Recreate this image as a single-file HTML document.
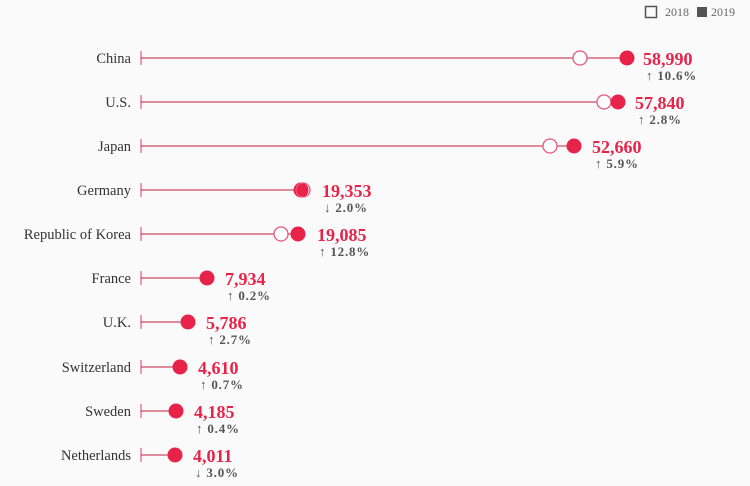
<!DOCTYPE html>
<html><head><meta charset="utf-8"><style>
body{margin:0;background:#fafafa;}
svg{display:block;font-family:"Liberation Serif",serif;}
.l{font-size:14.5px;fill:#333;text-anchor:end}
.v{font-size:18px;font-weight:bold;fill:#e8234a}
.c{font-size:13px;font-weight:bold;fill:#555;letter-spacing:0.8px}
</style></head><body>
<svg width="750" height="486" viewBox="0 0 750 486">
<rect width="750" height="486" fill="#fafafa"/>
<rect x="645.5" y="6.5" width="11" height="11" fill="none" stroke="#555" stroke-width="1.5"/>
<text x="665" y="16" font-size="12" fill="#666">2018</text>
<rect x="697" y="7" width="10" height="10" fill="#555"/>
<text x="711" y="16" font-size="12" fill="#666">2019</text>
<g stroke="#e8577a" stroke-width="1.2">
<line x1="141" y1="51" x2="141" y2="65"/><line x1="141" y1="95" x2="141" y2="109"/><line x1="141" y1="139" x2="141" y2="153"/><line x1="141" y1="183" x2="141" y2="197"/><line x1="141" y1="227" x2="141" y2="241"/><line x1="141" y1="271" x2="141" y2="285"/><line x1="141" y1="315" x2="141" y2="329"/><line x1="141" y1="360" x2="141" y2="374"/><line x1="141" y1="404" x2="141" y2="418"/><line x1="141" y1="448" x2="141" y2="462"/>
</g>
<g stroke="#c02040" stroke-width="1">
<line x1="141" y1="58" x2="627" y2="58"/><line x1="141" y1="102" x2="618" y2="102"/><line x1="141" y1="146" x2="574" y2="146"/><line x1="141" y1="190" x2="301" y2="190"/><line x1="141" y1="234" x2="298" y2="234"/><line x1="141" y1="278" x2="207" y2="278"/><line x1="141" y1="322" x2="188" y2="322"/><line x1="141" y1="367" x2="180" y2="367"/><line x1="141" y1="411" x2="176" y2="411"/><line x1="141" y1="455" x2="175" y2="455"/>
</g>
<g fill="#fff" stroke="#e8577a" stroke-width="1.3">
<circle cx="580" cy="58" r="7"/><circle cx="604" cy="102" r="7"/><circle cx="550" cy="146" r="7"/><circle cx="281" cy="234" r="7"/>
</g>
<g fill="#e8234a">
<circle cx="627" cy="58" r="7.5"/><circle cx="618" cy="102" r="7.5"/><circle cx="574" cy="146" r="7.5"/><circle cx="301" cy="190" r="7.5"/><circle cx="298" cy="234" r="7.5"/><circle cx="207" cy="278" r="7.5"/><circle cx="188" cy="322" r="7.5"/><circle cx="180" cy="367" r="7.5"/><circle cx="176" cy="411" r="7.5"/><circle cx="175" cy="455" r="7.5"/>
</g>
<circle cx="303" cy="190" r="7" fill="none" stroke="#e8577a" stroke-width="1.3"/>
<text class="l" x="131" y="63">China</text>
<text class="l" x="131" y="107">U.S.</text>
<text class="l" x="131" y="151">Japan</text>
<text class="l" x="131" y="195">Germany</text>
<text class="l" x="131" y="239">Republic of Korea</text>
<text class="l" x="131" y="283">France</text>
<text class="l" x="131" y="327">U.K.</text>
<text class="l" x="131" y="372">Switzerland</text>
<text class="l" x="131" y="416">Sweden</text>
<text class="l" x="131" y="460">Netherlands</text>
<text class="v" x="643" y="65">58,990</text><text class="c" x="646" y="80">↑ 10.6%</text>
<text class="v" x="635" y="109">57,840</text><text class="c" x="638" y="124">↑ 2.8%</text>
<text class="v" x="592" y="153">52,660</text><text class="c" x="595" y="168">↑ 5.9%</text>
<text class="v" x="322" y="197">19,353</text><text class="c" x="324" y="212">↓ 2.0%</text>
<text class="v" x="317" y="241">19,085</text><text class="c" x="319" y="256">↑ 12.8%</text>
<text class="v" x="225" y="285">7,934</text><text class="c" x="227" y="300">↑ 0.2%</text>
<text class="v" x="206" y="329">5,786</text><text class="c" x="208" y="344">↑ 2.7%</text>
<text class="v" x="198" y="374">4,610</text><text class="c" x="200" y="389">↑ 0.7%</text>
<text class="v" x="194" y="418">4,185</text><text class="c" x="196" y="433">↑ 0.4%</text>
<text class="v" x="193" y="462">4,011</text><text class="c" x="195" y="477">↓ 3.0%</text>
</svg>
</body></html>
